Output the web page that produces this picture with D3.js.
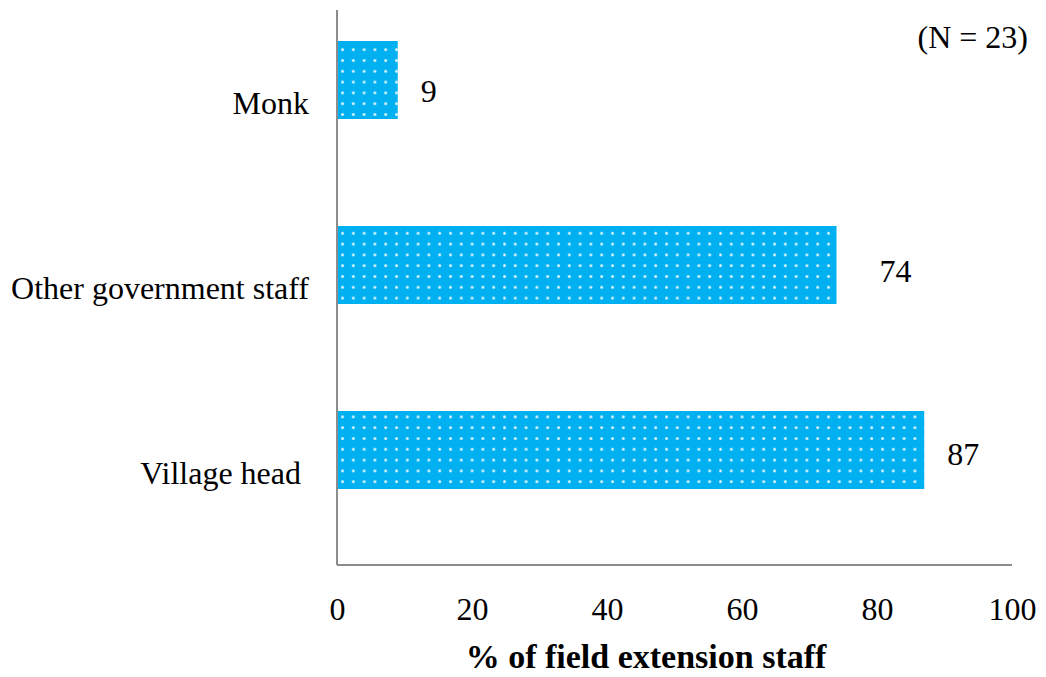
<!DOCTYPE html>
<html>
<head>
<meta charset="utf-8">
<script src="https://cdn.jsdelivr.net/npm/d3@7/dist/d3.min.js"></script>
<style>
  html, body { margin: 0; padding: 0; background: #fff; }
  svg { display: block; }
  text { font-family: "Liberation Serif", "Times New Roman", Times, serif; }
</style>
</head>
<body>
<svg id="chart" width="1046" height="677"></svg>
<script>
// Who field extension staff work with, % of staff (N = 23)
const categories = ["Monk", "Other government staff", "Village head"];
const percents = [9, 74, 87];
const xTicks = [0, 20, 40, 60, 80, 100];
const xTitle = "% of field extension staff";
const note = "(N = 23)";

const svg = d3.select("#chart");
const plot = { left: 337, right: 1012, top: 10, bottom: 565 };
const serif = "Liberation Serif, Times New Roman, serif";

const x = d3.scaleLinear().domain([0, 100]).range([plot.left, plot.right]);
// category bands for the axis labels
const y = d3.scaleBand().domain(categories).range([plot.top, plot.bottom]);
// bars sit a little above their label rows
const barShift = -22.5;
const barH = 78;
const barMid = (c) => y(c) + y.bandwidth() / 2 + barShift;

// dotted fill
const defs = svg.append("defs");
const pat = defs.append("pattern")
  .attr("id", "dots")
  .attr("patternUnits", "userSpaceOnUse")
  .attr("width", 10.8).attr("height", 10.8)
  .attr("x", plot.left + 3).attr("y", 4);
pat.append("rect").attr("width", 10.8).attr("height", 10.8).attr("fill", "#00B0F0");
pat.append("circle").attr("cx", 2.5).attr("cy", 2.5).attr("r", 1.5).attr("fill", "#ffffff").attr("opacity", 0.85);

const fs = 32;

// bars
svg.append("g").selectAll("rect")
  .data(categories)
  .join("rect")
  .attr("x", x(0))
  .attr("y", (c) => barMid(c) - barH / 2)
  .attr("width", (c, i) => x(percents[i]) - x(0))
  .attr("height", barH)
  .attr("fill", "url(#dots)");

// value labels (hand-placed offsets per bar)
const labelDx = { "Monk": 23, "Other government staff": 43, "Village head": 23 };
const labelDy = { "Monk": 22, "Other government staff": 17, "Village head": 15 };
svg.append("g").selectAll("text")
  .data(categories)
  .join("text")
  .attr("x", (c, i) => x(percents[i]) + labelDx[c])
  .attr("y", (c) => barMid(c) + labelDy[c])
  .attr("font-family", serif)
  .attr("font-size", fs)
  .attr("fill", "#000")
  .text((c, i) => percents[i]);

// category labels
const catDx = { "Monk": 0, "Other government staff": 0, "Village head": -8 };
svg.append("g").selectAll("text")
  .data(categories)
  .join("text")
  .attr("x", (c) => plot.left - 28 + catDx[c])
  .attr("y", (c) => y(c) + y.bandwidth() / 2 + 11)
  .attr("text-anchor", "end")
  .attr("font-family", serif)
  .attr("font-size", fs)
  .attr("fill", "#000")
  .text((c) => c);

// axis lines
svg.append("line")
  .attr("x1", plot.left).attr("x2", plot.left)
  .attr("y1", plot.top).attr("y2", plot.bottom)
  .attr("stroke", "#8c8c8c").attr("stroke-width", 2);
svg.append("line")
  .attr("x1", plot.left).attr("x2", plot.right)
  .attr("y1", plot.bottom).attr("y2", plot.bottom)
  .attr("stroke", "#8c8c8c").attr("stroke-width", 2);

// x tick labels
const xAxis = d3.axisBottom(x).tickValues(xTicks).tickSize(0).tickPadding(0);
const gx = svg.append("g").attr("transform", `translate(0,${plot.bottom})`).call(xAxis);
gx.attr("font-family", serif).attr("font-size", fs);
gx.select(".domain").remove();
gx.selectAll("text")
  .attr("dy", null)
  .attr("y", 55)
  .attr("font-family", serif)
  .attr("font-size", fs)
  .attr("fill", "#000");

// x title
svg.append("text")
  .attr("x", 646)
  .attr("y", 668)
  .attr("text-anchor", "middle")
  .attr("font-family", serif)
  .attr("font-size", 34)
  .attr("font-weight", "bold")
  .attr("fill", "#000")
  .text(xTitle);

// sample size note
svg.append("text")
  .attr("x", 1028)
  .attr("y", 48)
  .attr("text-anchor", "end")
  .attr("font-family", serif)
  .attr("font-size", fs)
  .attr("fill", "#000")
  .text(note);
</script>
</body>
</html>
